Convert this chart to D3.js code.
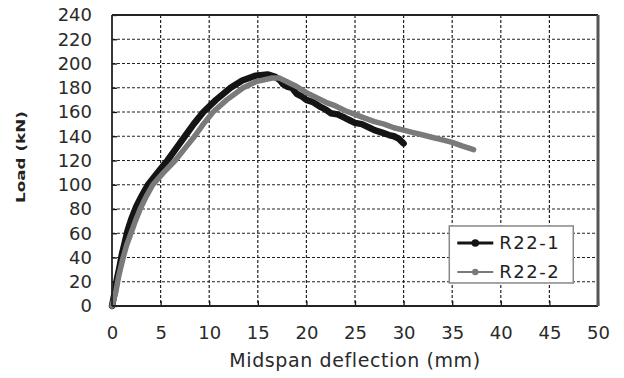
<!DOCTYPE html>
<html>
<head>
<meta charset="utf-8">
<script src="https://cdn.jsdelivr.net/npm/d3@7"></script>
<style>
  body { margin: 0; background: #fff; }
  svg { display: block; font-family: "DejaVu Sans", sans-serif; }
</style>
</head>
<body>
<div id="chart"></div>
<script>
// Tick values
const xTicks = [0, 5, 10, 15, 20, 25, 30, 35, 40, 45, 50];
const yTicks = [0, 20, 40, 60, 80, 100, 120, 140, 160, 180, 200, 220, 240];

// Series names
const seriesNames = ["R22-1", "R22-2"];

// R22-1 : midspan deflection (mm) and load (kN)
const r221Deflection = [0, 0.3, 0.5, 0.8, 1.0, 1.3, 1.6, 2.0, 2.5, 3.0, 3.7, 4.7, 5.7, 6.6, 7.5,
  8.4, 9.4, 10.7, 12.2, 13.4, 14.8, 16.0, 16.8, 17.3, 17.6, 18.0, 18.5, 19.0, 19.5,
  20.0, 20.7, 21.5, 22.0, 22.5, 23.2, 24.0, 24.5, 25.0, 25.7, 26.5, 27.0, 27.8, 28.5, 29.0, 29.5, 30.0];
const r221Load = [0, 12, 22, 33, 42, 52, 62, 72, 82, 90, 100, 110, 120, 130, 140,
  150, 160, 170, 180, 186, 190, 191, 189, 186, 183, 181, 180, 175, 173,
  170, 168, 164, 162, 159, 158, 155, 153, 151, 150, 147, 145, 143, 141, 140, 138, 134];

// R22-2 : midspan deflection (mm) and load (kN)
const r222Deflection = [0, 0.4, 0.7, 1.15, 1.5, 1.95, 2.4, 2.9, 3.5, 4.2, 5.3, 6.5, 7.5, 8.5,
  9.4, 10.4, 11.8, 13.5, 14.8, 16.5, 17.2, 18.0, 19.0, 20.0, 21.0, 22.0, 23.0, 24.0,
  25.0, 26.0, 27.0, 28.0, 29.0, 30.0, 31.0, 32.0, 33.0, 34.0, 35.0, 36.0, 37.2];
const r222Load = [0, 12, 25, 40, 50, 60, 70, 80, 90, 100, 110, 120, 130, 140,
  150, 160, 170, 180, 185, 188, 188, 185, 181, 176, 172, 168, 165, 161,
  158, 155, 152, 150, 147, 145, 143, 141, 139, 137, 135, 132, 129];

const W = 624, H = 378;
const margin = { top: 15, right: 26, bottom: 72, left: 112 };
const width = W - margin.left - margin.right;
const height = H - margin.top - margin.bottom;

const svg = d3.select("#chart").append("svg")
  .attr("width", W)
  .attr("height", H);

const g = svg.append("g")
  .attr("transform", `translate(${margin.left},${margin.top})`);

const x = d3.scaleLinear().domain([0, 50]).range([0, width]);
const y = d3.scaleLinear().domain([0, 240]).range([height, 0]);

// Dashed grid lines
g.append("g")
  .selectAll("line")
  .data(yTicks.slice(1, -1))
  .join("line")
  .attr("x1", 0).attr("x2", width)
  .attr("y1", d => y(d)).attr("y2", d => y(d))
  .attr("stroke", "#222")
  .attr("stroke-width", 1.2)
  .attr("stroke-dasharray", "3,2");

g.append("g")
  .selectAll("line")
  .data(xTicks.slice(1, -1))
  .join("line")
  .attr("x1", d => x(d)).attr("x2", d => x(d))
  .attr("y1", 0).attr("y2", height)
  .attr("stroke", "#222")
  .attr("stroke-width", 1.2)
  .attr("stroke-dasharray", "3,2");

// Axes with inward ticks
const xAxis = g.append("g")
  .attr("transform", `translate(0,${height})`)
  .call(d3.axisBottom(x).tickValues(xTicks).tickSize(-5).tickPadding(20));
const yAxis = g.append("g")
  .call(d3.axisLeft(y).tickValues(yTicks).tickSize(-5).tickPadding(20));

[xAxis, yAxis].forEach(a => {
  a.select(".domain").remove();
  a.selectAll(".tick line").attr("stroke", "#111").attr("stroke-width", 1.3);
  a.selectAll("text")
    .attr("font-family", "DejaVu Sans, sans-serif")
    .attr("font-size", 18)
    .attr("fill", "#2a2a2a");
});
xAxis.selectAll("text").attr("dy", "0.71em");

// Series lines
const lineGen = d3.line()
  .x(d => x(d[0]))
  .y(d => y(d[1]));

const r221 = d3.zip(r221Deflection, r221Load);
const r222 = d3.zip(r222Deflection, r222Load);

g.append("path")
  .datum(r221)
  .attr("d", lineGen)
  .attr("fill", "none")
  .attr("stroke", "#141414")
  .attr("stroke-width", 6.5)
  .attr("stroke-linejoin", "round")
  .attr("stroke-linecap", "round");

g.append("path")
  .datum(r222)
  .attr("d", lineGen)
  .attr("fill", "none")
  .attr("stroke", "#7a7a7a")
  .attr("stroke-width", 5.5)
  .attr("stroke-linejoin", "round")
  .attr("stroke-linecap", "round");

// Plot frame
g.append("line").attr("x1", 0).attr("x2", width).attr("y1", 0).attr("y2", 0)
  .attr("stroke", "#222").attr("stroke-width", 1.8);
g.append("line").attr("x1", 0).attr("x2", 0).attr("y1", 0).attr("y2", height)
  .attr("stroke", "#222").attr("stroke-width", 1.8);
g.append("line").attr("x1", 0).attr("x2", width).attr("y1", height).attr("y2", height)
  .attr("stroke", "#222").attr("stroke-width", 2);
g.append("line").attr("x1", width).attr("x2", width).attr("y1", 0).attr("y2", height)
  .attr("stroke", "#555").attr("stroke-width", 3);

// Legend
const legend = g.append("g")
  .attr("transform", `translate(${x(34.7)},${y(66)})`);
legend.append("rect")
  .attr("width", 124).attr("height", 57)
  .attr("fill", "#fff")
  .attr("stroke", "#888")
  .attr("stroke-width", 1.5);

const legendStyles = [
  { color: "#141414", sw: 3, r: 3.8 },
  { color: "#7a7a7a", sw: 2, r: 3.2 }
];
seriesNames.forEach((name, i) => {
  const row = legend.append("g").attr("transform", `translate(0,${17 + i * 29})`);
  row.append("line")
    .attr("x1", 8).attr("x2", 44)
    .attr("stroke", legendStyles[i].color)
    .attr("stroke-width", legendStyles[i].sw);
  row.append("circle")
    .attr("cx", 26).attr("r", legendStyles[i].r)
    .attr("fill", legendStyles[i].color);
  row.append("text")
    .attr("x", 50).attr("dy", "0.36em")
    .attr("font-size", 18)
    .attr("letter-spacing", 1.5)
    .attr("fill", "#222")
    .text(name);
});

// Axis titles
svg.append("text")
  .attr("x", margin.left + x(25))
  .attr("y", 367)
  .attr("text-anchor", "middle")
  .attr("font-size", 19)
  .attr("letter-spacing", 0.6)
  .attr("fill", "#2a2a2a")
  .text("Midspan deflection (mm)");

svg.append("text")
  .attr("transform", "translate(25,157) rotate(-90) scale(1.4,1)")
  .attr("text-anchor", "middle")
  .attr("font-size", 12)
  .attr("font-weight", "bold")
  .attr("fill", "#222")
  .text("Load (kN)");
</script>
</body>
</html>
